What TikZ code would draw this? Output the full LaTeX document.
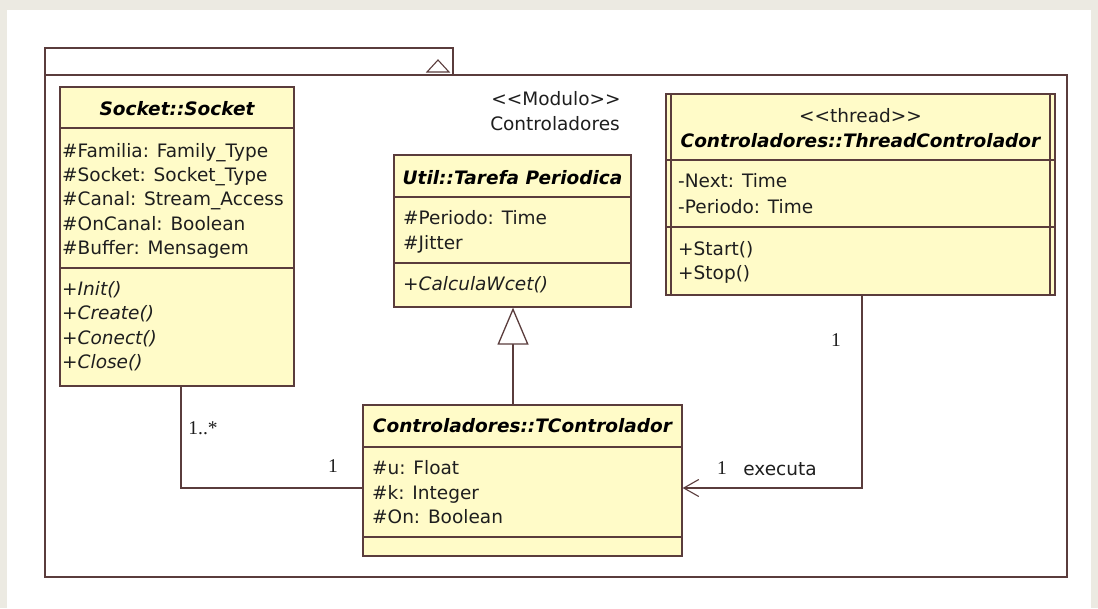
\documentclass[tikz,border=0pt]{standalone}
\usepackage{fontspec}
\setmainfont{DejaVu Sans}
\newfontfamily\numfont{Liberation Serif}
\usetikzlibrary{arrows.meta}
\definecolor{umlline}{HTML}{5A3C3C}
\definecolor{umlfill}{HTML}{FFFBC8}
\definecolor{pagebg}{HTML}{ECEAE2}
\definecolor{umltext}{HTML}{1E1E1E}

\begin{document}
\begin{tikzpicture}[x=1pt,y=-1pt,
  classbox/.style={draw=umlline, fill=umlfill, line width=1.3pt, inner sep=0pt, rectangle},
  sepline/.style={draw=umlline, line width=1.3pt},
  member/.style={anchor=base west, inner sep=0pt, text=umltext, font=\fontsize{18.5}{22}\selectfont},
  opmember/.style={member, font=\fontsize{18.5}{22}\selectfont\itshape},
  ctitle/.style={anchor=base, inner sep=0pt, text=black, font=\fontsize{18.5}{22}\selectfont\bfseries\itshape},
  plain/.style={anchor=base, inner sep=0pt, text=umltext, font=\fontsize{18.5}{22}\selectfont},
  mult/.style={anchor=base, inner sep=0pt, text=umltext, font=\numfont\fontsize{19.5}{22}\selectfont},
  assoc/.style={draw=umlline, line width=1.3pt},
]
% page and canvas
\useasboundingbox[fill=pagebg] (0,0) rectangle (1098,608);
\fill[white] (7,10) rectangle (1091,608);

% package frame with its tab
\draw[sepline] (45,48) rectangle (453,75);
\draw[sepline, line width=1.1pt] (427,72) -- (449,72) -- (438,60) -- cycle;
\draw[sepline] (45,75) rectangle (1067,577);
\node[plain] (stereo) at (556,105) {<\kern0pt<Modulo>\kern0pt>};
\node[plain] (pkgname) at (555,130) {Controladores};

% class Socket::Socket
\node[classbox, minimum width=234pt, minimum height=299pt] (socket) at (177,236.5) {};
\draw[sepline] (socket.west |- 0,128) -- (socket.east |- 0,128);
\draw[sepline] (socket.west |- 0,268) -- (socket.east |- 0,268);
\node[ctitle] (socketname) at (177,115) {Socket::Socket};
\foreach \t/\y [count=\i] in {\#Familia: Family\_Type/157,\#Socket: Socket\_Type/181,\#Canal: Stream\_Access/205,\#OnCanal: Boolean/230,\#Buffer: Mensagem/254}
  \node[member] (sa\i) at (62,\y) {\t};
\foreach \t/\y [count=\i] in {+Init()/295,+Create()/319,+Conect()/344,+Close()/368}
  \node[opmember] (so\i) at (62,\y) {\t};

% class Util::Tarefa Periodica
\node[classbox, minimum width=237pt, minimum height=152pt] (tarefa) at (512.5,231) {};
\draw[sepline] (tarefa.west |- 0,197) -- (tarefa.east |- 0,197);
\draw[sepline] (tarefa.west |- 0,263) -- (tarefa.east |- 0,263);
\node[ctitle] (tarefaname) at (512.5,184) {Util::Tarefa Periodica};
\node[member] (ta1) at (403,224) {\#Periodo: Time};
\node[member] (ta2) at (403,249) {\#Jitter};
\node[opmember] (to1) at (403,290) {+CalculaWcet()};

% active class Controladores::ThreadControlador
\node[classbox, minimum width=389pt, minimum height=201pt] (thread) at (860.5,194.5) {};
\draw[sepline] (671,94) -- (671,295);
\draw[sepline] (1050,94) -- (1050,295);
\draw[sepline] (thread.west |- 0,160) -- (thread.east |- 0,160);
\draw[sepline] (thread.west |- 0,227) -- (thread.east |- 0,227);
\node[plain] (threadstereo) at (860.5,122) {<\kern0pt<thread>\kern0pt>};
\node[ctitle] (threadname) at (860.5,147) {Controladores::ThreadControlador};
\node[member] (ha1) at (678,187) {-Next: Time};
\node[member] (ha2) at (678,213) {-Periodo: Time};
\node[member] (ho1) at (678,255) {+Start()};
\node[member] (ho2) at (678,279) {+Stop()};

% class Controladores::TControlador
\node[classbox, minimum width=319pt, minimum height=151pt] (tctrl) at (522.5,480.5) {};
\draw[sepline] (tctrl.west |- 0,447) -- (tctrl.east |- 0,447);
\draw[sepline] (tctrl.west |- 0,537) -- (tctrl.east |- 0,537);
\node[ctitle] (tctrlname) at (522.5,432) {Controladores::TControlador};
\node[member] (ca1) at (372,474) {\#u: Float};
\node[member] (ca2) at (372,499) {\#k: Integer};
\node[member] (ca3) at (372,523) {\#On: Boolean};

% generalization
\draw[assoc, -{Triangle[open, length=37pt, width=31pt, fill=white]}]
  ([xshift=0.5pt]tctrl.north -| tarefa.south) -- ([xshift=0.5pt]tarefa.south);

% association Socket -- TControlador
\draw[assoc] ([xshift=4pt]socket.south) |- ([yshift=-7.5pt]tctrl.west);
\node[mult] (m1) at (203,434) {1..*};
\node[mult] (m2) at (333,472) {1};

% navigable association ThreadControlador -> TControlador
\draw[assoc, -{Straight Barb[length=15pt, width=17pt, line width=1.1pt]}]
  ([xshift=1.5pt]thread.south) |- ([yshift=-7.5pt]tctrl.east);
\node[mult] (m3) at (836,346) {1};
\node[mult] (m4) at (722,474) {1};
\node[plain] (rolename) at (780,475) {executa};
\end{tikzpicture}
\end{document}
